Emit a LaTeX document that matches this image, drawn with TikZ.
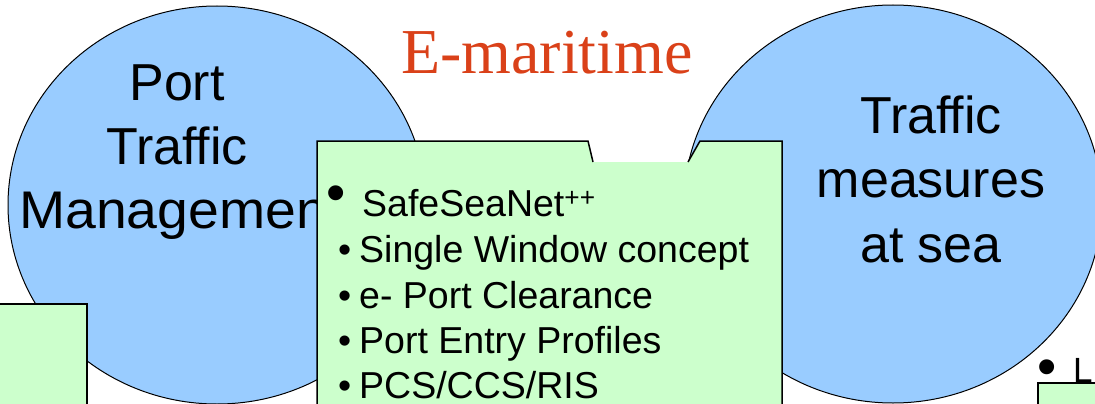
\documentclass[tikz,border=0pt]{standalone}
\usepackage{fontspec}
\setmainfont{Liberation Sans}
\newfontfamily\titlefont{Liberation Serif}
\usetikzlibrary{shapes.geometric}

\definecolor{seablue}{HTML}{99CCFF}
\definecolor{boxgreen}{HTML}{CCFFCC}
\definecolor{titlered}{HTML}{DA4119}

% raised, larger first-level bullet
\newcommand{\bigdot}[1]{\llap{\raisebox{#1}{\fontsize{55}{55}\selectfont •}\kern16pt}}

\begin{document}
\begin{tikzpicture}[
            x=1pt, y=-1pt,
            area/.style={ellipse, draw=black, line width=1pt, fill=seablue, minimum width=418pt, minimum height=398pt, inner sep=0pt},
            bigtxt/.style={font=\fontsize{52}{52}\selectfont, anchor=base, inner sep=0pt},
            item/.style={font=\fontsize{37.5}{40}\selectfont, anchor=base west, inner sep=0pt},
            edge/.style={line width=1.5pt, draw=black},
        ]
            \useasboundingbox (0,0) rectangle (1095,404);
            \fill[white] (0,0) rectangle (1095,404);

            % the two fields
            \node[area] (port) at (217,205) {};
            \node[area] (sea) at (893,204) {};
            \foreach \y/\txt [count=\i] in {100/Port, 164/Traffic}{
                \node[bigtxt] (portl\i) at (177,\y) {\txt};
            }
            \node[bigtxt, anchor=base west, font=\fontsize{53}{53}\selectfont] (portl3) at (19,228) {\scalebox{1.045}[1]{Management}};
            \foreach \y/\txt [count=\i] in {133/Traffic, 197/measures, 262/at sea}{
                \node[bigtxt] (seal\i) at (931,\y) {\txt};
            }

            \node[font=\titlefont\fontsize{64}{64}\selectfont, text=titlered, anchor=base west, inner sep=0pt] (title) at (401,74) {E-maritime};

            % green panels
            \filldraw[fill=boxgreen, edge] (-5,304) rectangle (87,420);
            \fill[boxgreen] (317,141) -- (588,141) -- (593,162) -- (688,162) -- (700,141) -- (782,141) -- (782,420) -- (317,420) -- cycle;
            \draw[edge] (317,420) -- (317,141) -- (588,141) -- (593,162);
            \draw[edge] (688,162) -- (700,141) -- (782,141) -- (782,420);
            \filldraw[fill=boxgreen, edge] (1038,383) rectangle (1110,420);

            % list in the middle panel
            \node[item] (item0) at (362,216) {\bigdot{5pt}SafeSeaNet\textsuperscript{++}};
            \foreach \y/\txt [count=\i] in {262/Single Window concept, 308/e- Port Clearance, 353/Port Entry Profiles, 398/{PCS/CCS/RIS}}{
                \node[item] (item\i) at (359,\y) {\llap{•\kern8pt}\txt};
            }
            \node[item, font=\fontsize{35}{35}\selectfont] (lrit) at (1073,382) {\bigdot{-3pt}LRIT};
        \end{tikzpicture}
\end{document}
